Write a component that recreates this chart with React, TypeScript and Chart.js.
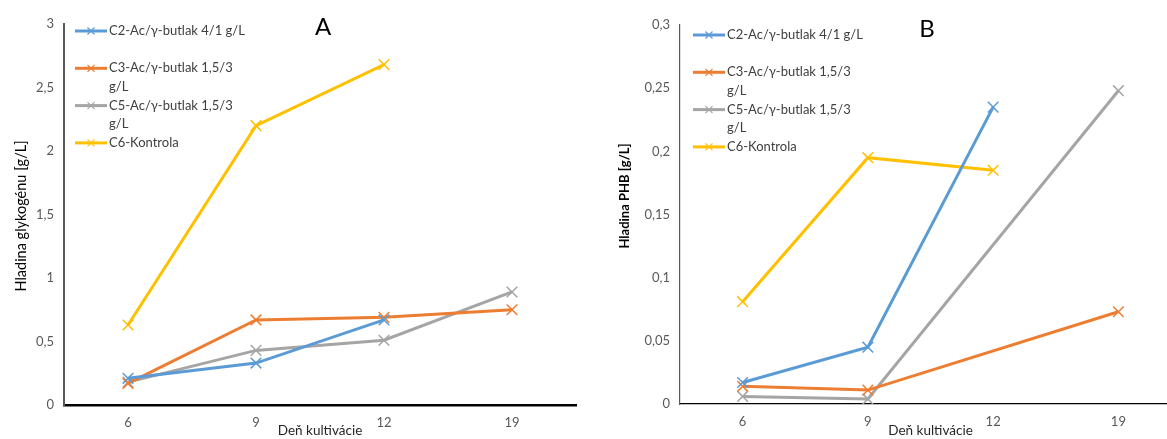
import React, { useEffect, useRef } from "react";
import { Chart, registerables } from "chart.js";

Chart.register(...registerables);

// ---------- data ----------
const days = ["6", "9", "12", "19"];
const seriesNames = [
  "C2-Ac/γ-butlak 4/1 g/L",
  "C3-Ac/γ-butlak 1,5/3 g/L",
  "C5-Ac/γ-butlak 1,5/3 g/L",
  "C6-Kontrola",
];
const seriesColors = ["#5B9BD5", "#ED7D31", "#A5A5A5", "#FFC000"];

const glycogenC2 = [0.21, 0.33, 0.67, null];
const glycogenC3 = [0.17, 0.67, 0.69, 0.75];
const glycogenC5 = [0.18, 0.43, 0.51, 0.89];
const glycogenC6 = [0.63, 2.2, 2.68, null];

const phbC2 = [0.017, 0.045, 0.235, null];
const phbC3 = [0.014, 0.011, null, 0.073];
const phbC5 = [0.006, 0.004, null, 0.248];
const phbC6 = [0.081, 0.195, 0.185, null];

const glycogenTicks = [0, 0.5, 1, 1.5, 2, 2.5, 3];
const phbTicks = [0, 0.05, 0.1, 0.15, 0.2, 0.25, 0.3];

const xTitle = "Deň kultivácie";
const yTitleA = "Hladina glykogénu [g/L]";
const yTitleB = "Hladina PHB [g/L]";

const FONT = "Lato, 'Open Sans', sans-serif";

const fmt = (v: number) => String(Math.round(v * 1000) / 1000).replace(".", ",");

function wrapText(ctx: CanvasRenderingContext2D, text: string, maxW: number): string[] {
  const words = text.split(" ");
  const lines: string[] = [];
  let cur = "";
  for (const w of words) {
    const test = cur ? cur + " " + w : w;
    if (cur && ctx.measureText(test).width > maxW) {
      lines.push(cur);
      cur = w;
    } else cur = test;
  }
  if (cur) lines.push(cur);
  return lines;
}

const overlayPlugin = {
  id: "overlay",
  afterDraw(chart: any) {
    const o = chart.options.plugins.overlay;
    if (!o) return;
    const { ctx, chartArea } = chart;
    ctx.save();
    // panel letter
    ctx.fillStyle = "#000";
    ctx.font = `24px ${FONT}`;
    ctx.textAlign = "center";
    ctx.textBaseline = "middle";
    ctx.fillText(o.letter, o.letterX, o.letterY);

    // y axis title
    ctx.save();
    ctx.translate(o.yTitleX, o.yTitleY);
    ctx.rotate(-Math.PI / 2);
    ctx.font = `${o.yTitleBold ? "bold " : ""}${o.yTitleSize}px ${FONT}`;
    ctx.fillStyle = "#000";
    ctx.textAlign = "center";
    ctx.textBaseline = "middle";
    ctx.fillText(o.yTitle, 0, 0);
    ctx.restore();

    // legend
    ctx.font = `13px ${FONT}`;
    ctx.textAlign = "left";
    ctx.textBaseline = "middle";
    const x0 = chartArea.left + o.legendDx;
    const x1 = x0 + 32;
    const tx = x1 + 2;
    chart.data.datasets.forEach((ds: any, i: number) => {
      const y = chartArea.top + o.legendDy + i * 37.3;
      ctx.strokeStyle = ds.borderColor;
      ctx.lineWidth = 3;
      ctx.beginPath();
      ctx.moveTo(x0, y);
      ctx.lineTo(x1, y);
      ctx.stroke();
      const cx = (x0 + x1) / 2;
      const r = 3.5;
      ctx.lineWidth = 1.2;
      ctx.beginPath();
      ctx.moveTo(cx - r, y - r);
      ctx.lineTo(cx + r, y + r);
      ctx.moveTo(cx - r, y + r);
      ctx.lineTo(cx + r, y - r);
      ctx.stroke();
      ctx.fillStyle = "#404040";
      const lines = wrapText(ctx, ds.label, o.legendWrap);
      lines.forEach((ln, j) => ctx.fillText(ln, tx, y + j * 18.7));
    });
    ctx.restore();
  },
};

function makeDatasets(series: (number | null)[][]) {
  return series.map((data, i) => ({
    label: seriesNames[i],
    data,
    borderColor: seriesColors[i],
    backgroundColor: seriesColors[i],
    borderWidth: 3,
    pointStyle: "crossRot",
    pointRadius: 7.5,
    pointBorderWidth: 1.5,
    pointBorderColor: seriesColors[i],
    pointHoverRadius: 7.5,
    spanGaps: true,
    tension: 0,
  }));
}

function makeConfig(p: {
  series: (number | null)[][];
  ticks: number[];
  max: number;
  yWidth: number;
  xHeight: number;
  top: number;
  yBorder: number;
  xBorder: number;
  yBorderColor: string;
  overlay: any;
}) {
  return {
    type: "line",
    data: { labels: days, datasets: makeDatasets(p.series) },
    plugins: [overlayPlugin],
    options: {
      animation: false,
      responsive: false,
      devicePixelRatio: 1,
      layout: { padding: { top: p.top, right: 8, left: 0, bottom: 0 } },
      plugins: {
        legend: { display: false },
        tooltip: { enabled: false },
        overlay: p.overlay,
      },
      scales: {
        x: {
          type: "category",
          offset: true,
          grid: { display: false, drawTicks: false },
          border: { display: true, color: "#000", width: p.xBorder },
          ticks: { color: "#595959", font: { family: FONT, size: 13 }, padding: 10 },
          title: {
            display: true,
            text: xTitle,
            color: "#262626",
            font: { family: FONT, size: 13.5 },
            padding: { top: 0, bottom: 0 },
          },
          afterFit: (s: any) => {
            s.height = p.xHeight;
          },
        },
        y: {
          type: "linear",
          min: 0,
          max: p.max,
          grid: { display: false, drawTicks: false },
          border: { display: true, color: p.yBorderColor, width: p.yBorder },
          ticks: {
            color: "#595959",
            font: { family: FONT, size: 13 },
            padding: 10,
            callback: (v: any) => fmt(Number(v)),
          },
          afterBuildTicks: (s: any) => {
            s.ticks = p.ticks.map((v) => ({ value: v }));
          },
          afterFit: (s: any) => {
            s.width = p.yWidth;
          },
        },
      },
    },
  } as any;
}

export default function App() {
  const refA = useRef<HTMLCanvasElement>(null);
  const refB = useRef<HTMLCanvasElement>(null);

  useEffect(() => {
    const a = new Chart(
      refA.current!,
      makeConfig({
        series: [glycogenC2, glycogenC3, glycogenC5, glycogenC6],
        ticks: glycogenTicks,
        max: 3,
        yWidth: 64,
        xHeight: 34,
        top: 24,
        yBorder: 2,
        xBorder: 2.5,
        yBorderColor: "#595959",
        overlay: {
          letter: "A",
          letterX: 323,
          letterY: 27,
          yTitle: yTitleA,
          yTitleX: 21,
          yTitleY: 216,
          yTitleSize: 14.5,
          yTitleBold: false,
          legendDx: 11,
          legendDy: 7,
          legendWrap: 140,
        },
      })
    );
    const b = new Chart(
      refB.current!,
      makeConfig({
        series: [phbC2, phbC3, phbC5, phbC6],
        ticks: phbTicks,
        max: 0.3,
        yWidth: 90,
        xHeight: 35,
        top: 25,
        yBorder: 1.2,
        xBorder: 1.3,
        yBorderColor: "#595959",
        overlay: {
          letter: "B",
          letterX: 337,
          letterY: 29,
          yTitle: yTitleB,
          yTitleX: 35,
          yTitleY: 196,
          yTitleSize: 13,
          yTitleBold: true,
          legendDx: 13,
          legendDy: 10,
          legendWrap: 140,
        },
      })
    );
    return () => {
      a.destroy();
      b.destroy();
    };
  }, []);

  return (
    <div
      style={{
        position: "fixed",
        left: 0,
        top: 0,
        width: 1167,
        height: 439,
        overflow: "hidden",
        background: "#fff",
      }}
    >
      <canvas
        ref={refA}
        width={585}
        height={439}
        style={{ position: "absolute", left: 0, top: 0, width: 585, height: 439 }}
      />
      <canvas
        ref={refB}
        width={600}
        height={439}
        style={{ position: "absolute", left: 590, top: 0, width: 600, height: 439 }}
      />
    </div>
  );
}
